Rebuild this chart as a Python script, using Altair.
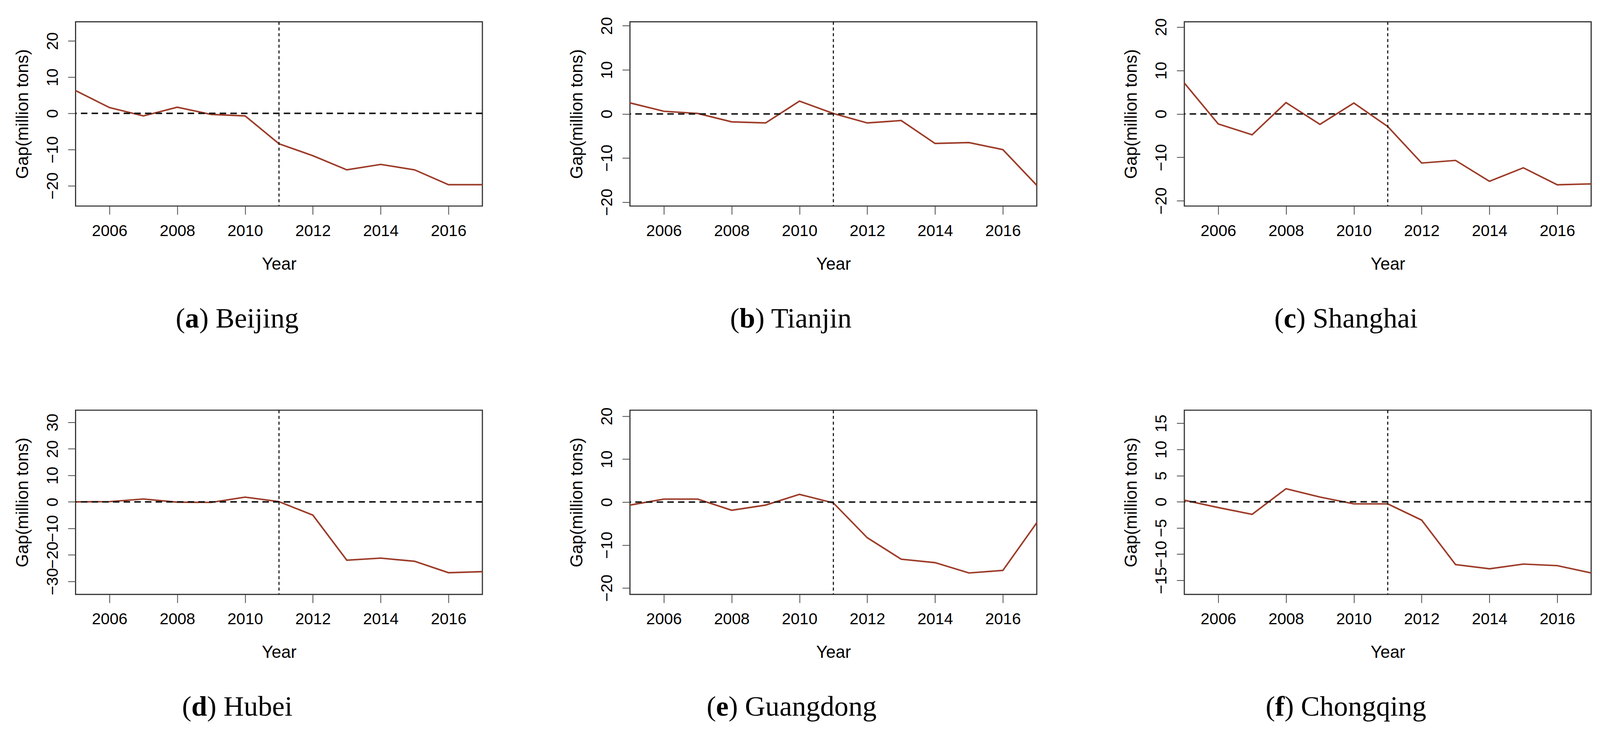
import altair as alt
import pandas as pd

# ---------------- data ----------------
years = list(range(2005, 2018))
beijing   = [6.3, 1.6, -0.7, 1.7, -0.3, -0.7, -8.4, -11.7, -15.6, -14.1, -15.6, -19.7, -19.7]
tianjin   = [2.5, 0.6, 0.1, -1.8, -2.05, 2.9, 0.1, -2.05, -1.5, -6.7, -6.5, -8.1, -16.2]
shanghai  = [7.1, -2.3, -4.8, 2.6, -2.4, 2.5, -2.9, -11.3, -10.7, -15.5, -12.4, -16.3, -16.1]
hubei     = [0.0, 0.1, 1.1, -0.1, -0.2, 1.8, 0.1, -5.0, -22.0, -21.2, -22.4, -26.7, -26.3]
guangdong = [-0.7, 0.7, 0.7, -1.9, -0.7, 1.8, -0.2, -8.3, -13.3, -14.1, -16.5, -15.9, -4.8]
chongqing = [0.3, -1.1, -2.4, 2.5, 0.9, -0.4, -0.4, -3.5, -12.0, -12.8, -11.9, -12.2, -13.6]

series = [beijing, tianjin, shanghai, hubei, guangdong, chongqing]
letters = ["a", "b", "c", "d", "e", "f"]
cities = ["Beijing", "Tianjin", "Shanghai", "Hubei", "Guangdong", "Chongqing"]
y_domains = [[-25.6, 25.3], [-20.9, 20.9], [-21.2, 21.2],
             [-34.9, 34.6], [-21.5, 21.4], [-17.7, 17.5]]
y_ticks = [[-20, -10, 0, 10, 20], [-20, -10, 0, 10, 20], [-20, -10, 0, 10, 20],
           [-30, -20, -10, 0, 10, 20, 30], [-20, -10, 0, 10, 20],
           [-15, -10, -5, 0, 5, 10, 15]]
x_ticks = [2006, 2008, 2010, 2012, 2014, 2016]
x_domain = [2005, 2017]
treatment_year = [2011]
zero_line = [0]

# ---------------- styling ----------------
W, H = 1067, 483
LINE_COLOR = "#9C3B28"
SANS = "Liberation Sans"
SERIF = "Liberation Serif"
CAP_FS = 74
# Times-compatible advance widths (em) for caption centring
REG = {"(": .333, ")": .333, " ": .25, "B": .667, "e": .444, "i": .278, "j": .278,
       "n": .5, "g": .5, "T": .611, "a": .444, "S": .556, "h": .5, "H": .722,
       "u": .5, "b": .5, "G": .722, "d": .5, "o": .5, "C": .667, "q": .5}
BOLD = {"a": .5, "b": .556, "c": .444, "d": .556, "e": .444, "f": .333}


def panel(i):
    df = pd.DataFrame({"Year": years, "Gap": series[i]})
    x_enc = alt.X(
        "Year:Q",
        scale=alt.Scale(domain=x_domain, nice=False, zero=False),
        axis=alt.Axis(values=x_ticks, format="d", title="Year", grid=False, domain=False,
                      labelFont=SANS, labelFontSize=42, labelColor="black",
                      labelPadding=23, labelFlush=False, labelOverlap=False,
                      tickSize=22, tickWidth=2, tickColor="#444",
                      titleFont=SANS, titleFontSize=45, titleFontWeight="normal",
                      titleColor="black", titleX=W / 2, titleY=166,
                      titleAlign="center", titleBaseline="alphabetic"),
    )
    y_enc = alt.Y(
        "Gap:Q",
        scale=alt.Scale(domain=y_domains[i], nice=False, zero=False),
        axis=alt.Axis(values=y_ticks[i], title="Gap(million tons)", grid=False, domain=False,
                      labelFont=SANS, labelFontSize=42, labelColor="black",
                      labelAngle=270, labelAlign="center", labelBaseline="alphabetic",
                      labelPadding=27, labelFlush=False, labelOverlap=False,
                      tickSize=20, tickWidth=2, tickColor="#444",
                      titleFont=SANS, titleFontSize=45, titleFontWeight="normal",
                      titleColor="black", titleAngle=270, titleX=-125, titleY=H / 2,
                      titleAlign="center", titleBaseline="alphabetic"),
    )
    line = alt.Chart(df).mark_line(color=LINE_COLOR, strokeWidth=4).encode(x=x_enc, y=y_enc)
    hline = alt.Chart(pd.DataFrame({"Gap": zero_line})).mark_rule(
        color="#1a1a1a", strokeWidth=4, strokeDash=[17, 11]).encode(y="Gap:Q")
    vline = alt.Chart(pd.DataFrame({"Year": treatment_year})).mark_rule(
        color="#1a1a1a", strokeWidth=3, strokeDash=[8, 7]).encode(x="Year:Q")

    # caption "(x) City" with bold letter, centred below the panel
    rest = ") " + cities[i]
    total = (REG["("] + BOLD[letters[i]] + sum(REG.get(c, .5) for c in rest)) * CAP_FS
    left = 424 - total / 2
    cap_y = H + 318
    parts = [("(", left, "normal"),
             (letters[i], left + REG["("] * CAP_FS, "bold"),
             (rest, left + (REG["("] + BOLD[letters[i]]) * CAP_FS, "normal")]
    caps = []
    for txt, px, wt in parts:
        caps.append(
            alt.Chart(pd.DataFrame({"t": [txt]})).mark_text(
                align="left", baseline="alphabetic", font=SERIF, fontSize=CAP_FS,
                fontWeight=wt, color="black").encode(
                x=alt.value(px), y=alt.value(cap_y), text="t:N")
        )
    return alt.layer(line, hline, vline, *caps).properties(width=W, height=H)


row1 = alt.hconcat(panel(0), panel(1), panel(2), spacing=387, bounds="flush")
row2 = alt.hconcat(panel(3), panel(4), panel(5), spacing=387, bounds="flush")
chart = (
    alt.vconcat(row1, row2, spacing=1018, bounds="flush")
    .properties(padding={"left": 27, "top": 11, "right": 5, "bottom": 5},
                background="white")
    .configure_view(stroke="#333333", strokeWidth=3)
)
chart.save("out.html", embed_options={"renderer": "svg", "actions": False})
